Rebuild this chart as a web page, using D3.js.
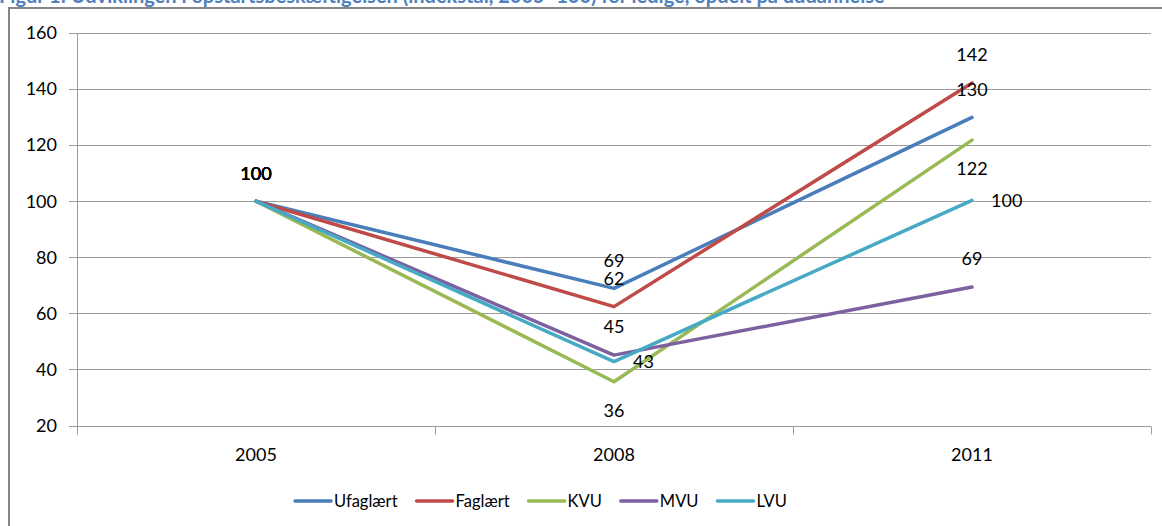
<!DOCTYPE html>
<html><head><meta charset="utf-8">
<script src="https://cdn.jsdelivr.net/npm/d3@7"></script>
<style>
html,body{margin:0;padding:0;background:#fff;}
svg{display:block;}
text{font-family:Lato,"Liberation Sans",sans-serif;}
</style></head>
<body>
<script>
const title = "Figur 1: Udviklingen i opstartsbeskæftigelsen (indekstal, 2005=100) for ledige, opdelt på uddannelse";
const years = ["2005","2008","2011"];
const seriesNames = ["Ufaglært","Faglært","KVU","MVU","LVU"];
const ufaglaert = [100, 68.9, 129.9];
const faglaert  = [100, 62.4, 142.2];
const kvu       = [100, 35.6, 121.8];
const mvu       = [100, 45.1, 69.4];
const lvu       = [100, 42.8, 100.3];
const yTicks = [20,40,60,80,100,120,140,160];
const colors = ["#4A7EBB","#BE4B48","#98B954","#7D60A0","#46AAC5"];
const labelPos = [
  ["above","above","above"],
  ["above","above","above"],
  ["above","below","below"],
  ["above","above","above"],
  ["above","right","right"]
];
const seriesValues = [ufaglaert, faglaert, kvu, mvu, lvu];

(function(){
const W = 1162, H = 526;
const svg = d3.select("body").append("svg").attr("width",W).attr("height",H);
svg.append("rect").attr("width",W).attr("height",H).attr("fill","#fff");

// outer frame
svg.append("rect").attr("x",9).attr("y",8).attr("width",1300).attr("height",700)
  .attr("fill","#fff").attr("stroke","#868686").attr("stroke-width",2);

// title (clipped at top, as in the source image)
svg.append("text").attr("x",-1).attr("y",3)
  .attr("font-size",20).attr("font-weight","bold").attr("fill","#4F81BD")
  .text(title);

const pl = 77, pr = 1151, pt = 33, pb = 425.5;
const x = d3.scaleBand().domain(years).range([pl,pr]);
const y = d3.scaleLinear().domain([20,160]).range([pb,pt]);

const grid = "#9c9c9c";
svg.append("g").selectAll("line").data(yTicks).join("line")
  .attr("x1",pl-8).attr("x2",pr)
  .attr("y1",d=>Math.round(y(d))+0.5).attr("y2",d=>Math.round(y(d))+0.5)
  .attr("stroke",grid).attr("stroke-width",1);
svg.append("line").attr("x1",pl+0.5).attr("x2",pl+0.5)
  .attr("y1",Math.round(y(160))+0.5).attr("y2",Math.round(y(20))+0.5)
  .attr("stroke",grid);
svg.append("g").selectAll("text").data(yTicks).join("text")
  .attr("x",57).attr("y",d=>y(d)).attr("dy","0.35em")
  .attr("text-anchor","end").attr("font-size",18).attr("fill","#000")
  .text(d=>d);
const bounds = years.map(c=>x(c)).concat([pr]);
svg.append("g").selectAll("line").data(bounds).join("line")
  .attr("x1",d=>Math.round(d)+0.5).attr("x2",d=>Math.round(d)+0.5)
  .attr("y1",Math.round(y(20))+0.5).attr("y2",Math.round(y(20))+8.5)
  .attr("stroke",grid);
svg.append("g").selectAll("text").data(years).join("text")
  .attr("x",d=>x(d)+x.bandwidth()/2).attr("y",455).attr("dy","0.35em")
  .attr("text-anchor","middle").attr("font-size",18).attr("fill","#000")
  .text(d=>d);

const cx = d=>x(d)+x.bandwidth()/2;
const line = d3.line().x((d,i)=>cx(years[i])).y(d=>y(d));
seriesValues.forEach((vals,si)=>{
  svg.append("path").datum(vals).attr("d",line)
    .attr("fill","none").attr("stroke",colors[si]).attr("stroke-width",3.5)
    .attr("stroke-linejoin","round").attr("stroke-linecap","round");
});
const fmt = d3.format(".0f");
seriesValues.forEach((vals,si)=>{
  vals.forEach((v,i)=>{
    const px = cx(years[i]), py = y(v), p = labelPos[si][i];
    let tx = px, ty = py, anchor = "middle";
    if (p==="above") ty = py - 28;
    else if (p==="below") ty = py + 29;
    else if (p==="right") { tx = px + 19; anchor = "start"; }
    svg.append("text").attr("x",tx).attr("y",ty).attr("dy","0.35em")
      .attr("text-anchor",anchor).attr("font-size",18).attr("fill","#000")
      .text(fmt(v));
  });
});

let lx = 295; const ly = 501;
seriesNames.forEach((n,i)=>{
  svg.append("line").attr("x1",lx).attr("x2",lx+36).attr("y1",ly).attr("y2",ly)
    .attr("stroke",colors[i]).attr("stroke-width",3.5).attr("stroke-linecap","round");
  const t = svg.append("text").attr("x",lx+39).attr("y",ly).attr("dy","0.35em")
    .attr("font-size",16.5).attr("fill","#000").text(n);
  const w = t.node().getComputedTextLength();
  lx += 39 + w + 19;
});
})();
</script>
</body></html>
